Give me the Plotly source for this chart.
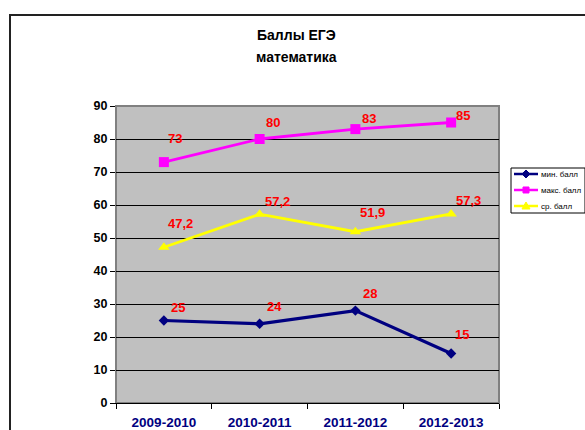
import plotly.graph_objects as go

categories = ["2009-2010", "2010-2011", "2011-2012", "2012-2013"]
min_scores = [25, 24, 28, 15]
max_scores = [73, 80, 83, 85]
avg_scores = [47.2, 57.2, 51.9, 57.3]
series_names = ["мин. балл", "макс. балл", "ср. балл"]
y_ticks = [0, 10, 20, 30, 40, 50, 60, 70, 80, 90]

W, H = 585, 430
L, R, T, B = 116, 86, 106, 27
pw, ph = W - L - R, H - T - B
FONT = "Liberation Sans, Arial"


def px(x):
    return (x - L) / pw


def py(y):
    return (H - B - y) / ph


def fmt(v):
    return ("%g" % v).replace(".", ",")


series = [
    (min_scores, series_names[0], "#000080", "diamond", 8, 3.2, [(14, -13), (15, -17), (15, -17), (11, -19)]),
    (max_scores, series_names[1], "#FF00FF", "square", 10, 2.8, [(11, -24), (13, -17), (14, -11), (12, -7)]),
    (avg_scores, series_names[2], "#FFFF00", "triangle-up", 10, 2.8, [(17, -24), (18, -13), (17, -19), (17, -13)]),
]

fig = go.Figure()
annotations = []
for vals, name, color, sym, msize, lw, offs in series:
    fig.add_trace(go.Scatter(
        x=categories, y=vals, name=name, mode="lines+markers",
        line=dict(color=color, width=lw),
        marker=dict(symbol=sym, size=msize, color=color),
        showlegend=False,
    ))
    for c, v, (dx, dy) in zip(categories, vals, offs):
        annotations.append(dict(
            x=c, y=v, xref="x", yref="y", text="<b>%s</b>" % fmt(v),
            showarrow=False, xshift=dx, yshift=-dy, xanchor="center", yanchor="middle",
            font=dict(family=FONT, size=13, color="#FF0000"),
        ))

# title
for txt, yy in (("Баллы ЕГЭ", 35), ("математика", 57)):
    annotations.append(dict(x=px(296), y=py(yy), xref="paper", yref="paper",
                            text="<b>%s</b>" % txt, showarrow=False,
                            xanchor="center", yanchor="middle",
                            font=dict(family=FONT, size=14, color="black")))

shapes = [
    # outer chart border (cropped by the window)
    dict(type="rect", xref="paper", yref="paper",
         x0=px(10), x1=px(W + 20), y0=py(H + 20), y1=py(15),
         line=dict(color="#222222", width=2), fillcolor="rgba(0,0,0,0)", layer="below"),
    # plot area border
    dict(type="rect", xref="paper", yref="paper", x0=0, x1=1, y0=0, y1=1,
         line=dict(color="#808080", width=2), fillcolor="rgba(0,0,0,0)", layer="below"),
    # legend box
    dict(type="rect", xref="paper", yref="paper",
         x0=px(511), x1=px(585), y0=py(213), y1=py(168),
         line=dict(color="black", width=1), fillcolor="white"),
]

# legend entries (drawn by hand to match the compact original legend)
leg_y = [174, 190, 206]
leg_colors = [s[2] for s in series]
for i, (name, color, yy) in enumerate(zip(series_names, leg_colors, leg_y)):
    shapes.append(dict(type="line", xref="paper", yref="paper",
                       x0=px(514), x1=px(538), y0=py(yy), y1=py(yy),
                       line=dict(color=color, width=2.5)))
    cx = 526
    if i == 0:
        path = "M %f %f L %f %f L %f %f L %f %f Z" % (
            px(cx - 4), py(yy), px(cx), py(yy - 4), px(cx + 4), py(yy), px(cx), py(yy + 4))
    elif i == 1:
        path = "M %f %f L %f %f L %f %f L %f %f Z" % (
            px(cx - 3), py(yy - 3), px(cx + 3), py(yy - 3), px(cx + 3), py(yy + 3), px(cx - 3), py(yy + 3))
    else:
        path = "M %f %f L %f %f L %f %f Z" % (
            px(cx - 4), py(yy + 3), px(cx + 4), py(yy + 3), px(cx), py(yy - 4))
    shapes.append(dict(type="path", xref="paper", yref="paper", path=path,
                       fillcolor=color, line=dict(color=color, width=1)))
    annotations.append(dict(x=px(539), y=py(yy), xref="paper", yref="paper",
                            text=name, showarrow=False, xanchor="left", yanchor="middle",
                            font=dict(family=FONT, size=8, color="black")))

fig.update_layout(
    width=W, height=H,
    margin=dict(l=L, r=R, t=T, b=B, autoexpand=False),
    paper_bgcolor="white",
    plot_bgcolor="#C0C0C0",
    font=dict(family=FONT, color="black"),
    showlegend=False,
    annotations=annotations,
    shapes=shapes,
)
fig.update_xaxes(
    type="category", range=[-0.5, 3.5], showgrid=False, automargin=False,
    ticks="outside", tickson="boundaries", ticklen=5, tickcolor="black",
    showline=True, linecolor="black", linewidth=1,
    ticklabelstandoff=7,
    tickfont=dict(family=FONT, size=13.5, color="#000080", weight="bold"),
    zeroline=False,
)
fig.update_yaxes(
    range=[0, 90], tickvals=y_ticks, ticktext=["<b>%d</b>" % t for t in y_ticks],
    showgrid=True, gridcolor="black", gridwidth=1, automargin=False,
    ticks="outside", ticklen=5, tickcolor="black",
    showline=True, linecolor="#808080", linewidth=1,
    tickfont=dict(family=FONT, size=12.5, color="black"),
    zeroline=False,
)

fig.write_html("out.html", config={"displayModeBar": False},
               post_script="document.body.style.margin='0px';")
